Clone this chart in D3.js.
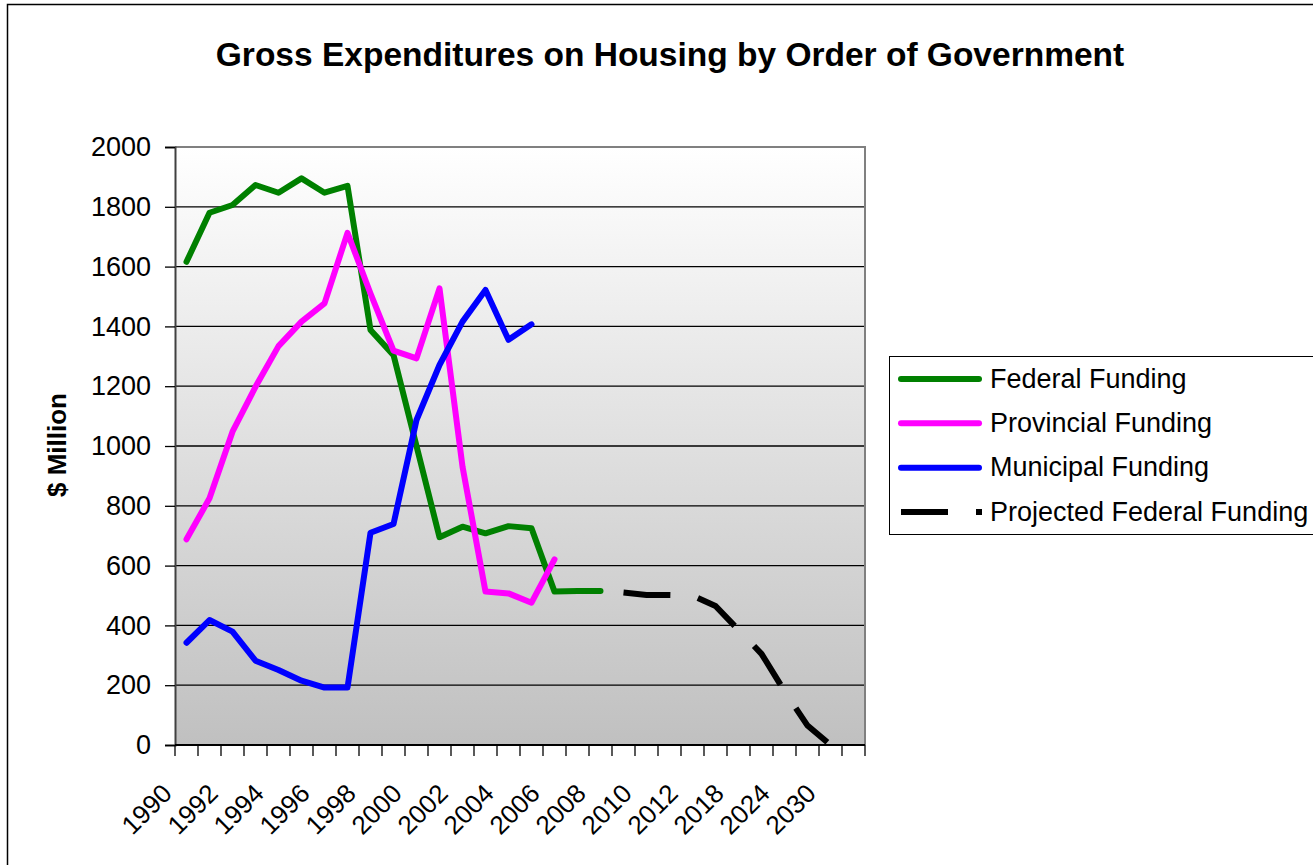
<!DOCTYPE html>
<html>
<head>
<meta charset="utf-8">
<script src="https://cdnjs.cloudflare.com/ajax/libs/d3/7.8.5/d3.min.js"></script>
<style>
    body { margin: 0; background: #fff; }
    text { font-family: "Liberation Sans", Arial, sans-serif; fill: #000; }
</style>
</head>
<body>
<div id="chart"></div>
<script>
// Gross expenditures on housing, $ million
var years = ["1990", "1991", "1992", "1993", "1994", "1995", "1996", "1997", "1998", "1999",
    "2000", "2001", "2002", "2003", "2004", "2005", "2006", "2007", "2008", "2009",
    "2010", "2011", "2012", "2015", "2018", "2021", "2024", "2027", "2030", "2033"];

var federal = [1616, 1780, 1806, 1873, 1847, 1895, 1847, 1870, 1388, 1304,
    1000, 695, 730, 708, 732, 725, 513, 515, 515];
var provincial = [688, 825, 1048, 1198, 1334, 1416, 1477, 1713, 1510, 1319,
    1293, 1527, 931, 513, 507, 476, 621];
var municipal = [342, 418, 379, 282, 251, 215, 192, 192, 710, 739,
    1087, 1271, 1416, 1522, 1355, 1407];
// projection starts in 2009
var projectedStart = "2009";
var projected = [510, 502, 502, 500, 465, 385, 305, 180, 65, 0];

var yTicks = [0, 200, 400, 600, 800, 1000, 1200, 1400, 1600, 1800, 2000];
var seriesNames = ["Federal Funding", "Provincial Funding", "Municipal Funding", "Projected Federal Funding"];

var svgWidth = 1313;
var svgHeight = 865;

var plot = { left: 175, right: 865, top: 147, bottom: 745 };

var svg = d3.select("#chart")
    .append("svg")
    .attr("width", svgWidth)
    .attr("height", svgHeight);

// outer chart border
svg.append("rect")
    .attr("x", 7.5)
    .attr("y", 4.5)
    .attr("width", svgWidth + 10)
    .attr("height", svgHeight + 10)
    .attr("fill", "none")
    .attr("stroke", "#000")
    .attr("stroke-width", 1.5);

// gradient for plot area
var grad = svg.append("defs").append("linearGradient")
    .attr("id", "plotBg")
    .attr("x1", 0).attr("y1", 0)
    .attr("x2", 0).attr("y2", 1);
grad.append("stop").attr("offset", "0%").attr("stop-color", "#ffffff");
grad.append("stop").attr("offset", "100%").attr("stop-color", "#c0c0c0");

// scales
var xScale = d3.scaleBand()
    .domain(years)
    .range([plot.left, plot.right])
    .padding(0);

var yScale = d3.scaleLinear()
    .domain([0, 2000])
    .range([plot.bottom, plot.top]);

var xMid = function (yr) { return xScale(yr) + xScale.bandwidth() / 2; };

svg.append("rect")
    .attr("x", plot.left)
    .attr("y", plot.top)
    .attr("width", plot.right - plot.left)
    .attr("height", plot.bottom - plot.top)
    .attr("fill", "url(#plotBg)");

// gridlines
svg.append("g")
    .selectAll("line")
    .data(yTicks.filter(d => d > 0 && d < 2000))
    .enter()
    .append("line")
    .attr("x1", plot.left)
    .attr("x2", plot.right)
    .attr("y1", d => yScale(d))
    .attr("y2", d => yScale(d))
    .attr("stroke", "#000")
    .attr("stroke-width", 1.3);

// plot border (top and right)
svg.append("path")
    .attr("d", `M${plot.left},${plot.top}H${plot.right}V${plot.bottom}`)
    .attr("fill", "none")
    .attr("stroke", "#808080")
    .attr("stroke-width", 2);

// y axis
var leftAxis = d3.axisLeft(yScale)
    .tickValues(yTicks)
    .tickSize(10)
    .tickPadding(14)
    .tickFormat(d3.format("d"));

var yAxisG = svg.append("g")
    .attr("transform", `translate(${plot.left}, 0)`)
    .call(leftAxis);
yAxisG.select(".domain").attr("stroke", "#404040").attr("stroke-width", 2);
yAxisG.selectAll(".tick line").attr("stroke", "#000").attr("stroke-width", 1.3);
yAxisG.selectAll(".tick text")
    .attr("font-size", "27px")
    .attr("font-family", "Liberation Sans, Arial, sans-serif")
    .attr("fill", "#000");

// x axis, ticks at category edges
svg.append("line")
    .attr("x1", plot.left)
    .attr("x2", plot.right)
    .attr("y1", plot.bottom)
    .attr("y2", plot.bottom)
    .attr("stroke", "#000")
    .attr("stroke-width", 2);

var edges = years.map(d => xScale(d)).concat([plot.right]);
svg.append("g")
    .selectAll("line")
    .data(edges)
    .enter()
    .append("line")
    .attr("x1", d => d)
    .attr("x2", d => d)
    .attr("y1", plot.bottom)
    .attr("y2", plot.bottom + 11)
    .attr("stroke", "#000")
    .attr("stroke-width", 1.3);

svg.append("g")
    .selectAll("text")
    .data(years.filter((d, i) => i % 2 === 0 && i < 29))
    .enter()
    .append("text")
    .attr("transform", d => `translate(${xMid(d) - 13}, 795) rotate(-45)`)
    .attr("text-anchor", "end")
    .attr("font-size", "26px")
    .text(d => d);

// y axis title
svg.append("text")
    .attr("transform", "translate(66, 445) rotate(-90)")
    .attr("text-anchor", "middle")
    .attr("font-size", "26px")
    .style("font-weight", "bold")
    .text("$ Million");

// chart title
svg.append("text")
    .attr("x", 670)
    .attr("y", 66)
    .attr("text-anchor", "middle")
    .attr("font-size", "33.5px")
    .style("font-weight", "bold")
    .text("Gross Expenditures on Housing by Order of Government");

// lines
var line = d3.line()
    .x(d => xMid(d.year))
    .y(d => yScale(d.value));

function toPoints(values, startYear) {
    var start = years.indexOf(startYear);
    return values.map((v, i) => ({ year: years[start + i], value: v }));
}

var seriesData = [
    { name: seriesNames[0], color: "#008000", points: toPoints(federal, "1990"), dash: null },
    { name: seriesNames[1], color: "#ff00ff", points: toPoints(provincial, "1990"), dash: null },
    { name: seriesNames[2], color: "#0000ff", points: toPoints(municipal, "1990"), dash: null },
    { name: seriesNames[3], color: "#000000", points: toPoints(projected, projectedStart), dash: "47,28" }
];

svg.append("g")
    .selectAll("path")
    .data(seriesData)
    .enter()
    .append("path")
    .attr("d", d => line(d.points))
    .attr("fill", "none")
    .attr("stroke", d => d.color)
    .attr("stroke-width", 6)
    .attr("stroke-linejoin", d => d.dash ? "miter" : "round")
    .attr("stroke-linecap", d => d.dash ? "butt" : "round")
    .attr("stroke-dasharray", d => d.dash);

// legend
var legend = svg.append("g");
legend.append("rect")
    .attr("x", 889.5)
    .attr("y", 356.5)
    .attr("width", 440)
    .attr("height", 178)
    .attr("fill", "#fff")
    .attr("stroke", "#000")
    .attr("stroke-width", 1);

var legendY = d3.scalePoint()
    .domain(seriesNames)
    .range([379, 512]);

var items = legend.selectAll("g.item")
    .data(seriesData)
    .enter()
    .append("g")
    .attr("class", "item")
    .attr("transform", d => `translate(0, ${legendY(d.name)})`);

items.append("line")
    .attr("x1", 901)
    .attr("x2", d => d.dash ? 982 : 979)
    .attr("stroke", d => d.color)
    .attr("stroke-width", 6)
    .attr("stroke-linecap", d => d.dash ? "butt" : "round")
    .attr("stroke-dasharray", d => d.dash);

items.append("text")
    .attr("x", 990)
    .attr("y", 8.5)
    .attr("font-size", "27px")
    .text(d => d.name);
</script>
</body>
</html>
